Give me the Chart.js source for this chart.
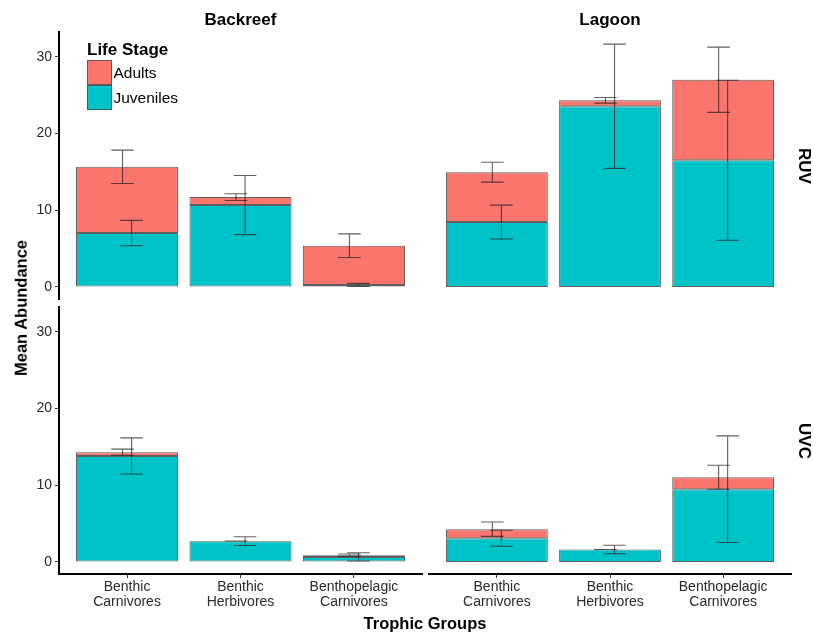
<!DOCTYPE html>
<html>
<head>
<meta charset="utf-8">
<title>Mean Abundance by Trophic Group</title>
<script src="https://cdn.jsdelivr.net/npm/chart.js@4.4.0/dist/chart.umd.min.js"></script>
<style>
  html, body { margin: 0; padding: 0; background: #ffffff; }
  #wrap { position: relative; width: 813px; height: 633px; overflow: hidden;
          font-family: "Liberation Sans", Arial, sans-serif; color: #000; }
  #wrap canvas { position: absolute; }
  .txt { position: absolute; white-space: nowrap; line-height: 1; transform: translate(-50%, -50%); }
  .bold { font-weight: bold; }
  .left { transform: translate(0, -50%); }
  .key { position: absolute; width: 23px; height: 23px; border: 1px solid rgba(70,70,70,0.75); box-sizing: content-box; }
</style>
</head>
<body>
<div id="wrap">
  <canvas id="ruvBackreef" width="426" height="275" style="left:0px;top:28px;"></canvas>
  <canvas id="ruvLagoon" width="370" height="275" style="left:425px;top:28px;"></canvas>
  <canvas id="uvcBackreef" width="426" height="316" style="left:0px;top:303px;"></canvas>
  <canvas id="uvcLagoon" width="370" height="316" style="left:425px;top:303px;"></canvas>

  <div class="txt bold" style="left:240.5px;top:19px;font-size:17px;">Backreef</div>
  <div class="txt bold" style="left:610px;top:19px;font-size:17px;">Lagoon</div>
  <div class="txt bold" style="left:803.8px;top:165.5px;font-size:17px;transform:translate(-50%,-50%) rotate(90deg);">RUV</div>
  <div class="txt bold" style="left:803.8px;top:440.5px;font-size:17px;transform:translate(-50%,-50%) rotate(90deg);">UVC</div>
  <div class="txt bold" style="left:20.8px;top:308px;font-size:16.5px;transform:translate(-50%,-50%) rotate(-90deg);">Mean Abundance</div>
  <div class="txt bold" style="left:425px;top:622.5px;font-size:16.5px;">Trophic Groups</div>

  <div class="txt bold left" style="left:87px;top:48.8px;font-size:17px;">Life Stage</div>
  <div class="key" id="keyAdults" style="left:86.5px;top:59.5px;"></div>
  <div class="key" id="keyJuveniles" style="left:86.5px;top:85px;"></div>
  <div class="txt left" style="left:113.5px;top:73px;font-size:15.5px;">Adults</div>
  <div class="txt left" style="left:113.5px;top:98.3px;font-size:15.5px;">Juveniles</div>
</div>

<script>
// Trophic groups on the x axis and the y tick values
const trophicGroups = ['Benthic Carnivores', 'Benthic Herbivores', 'Benthopelagic Carnivores'];
const yTickValues = [0, 10, 20, 30];

// RUV surveys, Backreef: mean abundance and standard error per life stage
const ruvBackreefJuveniles   = [7.02, 10.66, 0.26];
const ruvBackreefAdults      = [8.63, 1.04, 5.11];
const ruvBackreefJuvenilesSE = [1.65, 3.85, 0.20];
const ruvBackreefAdultsSE    = [2.17, 0.44, 1.54];

// RUV surveys, Lagoon
const ruvLagoonJuveniles   = [8.45, 23.54, 16.51];
const ruvLagoonAdults      = [6.50, 0.78, 10.49];
const ruvLagoonJuvenilesSE = [2.20, 8.10, 10.43];
const ruvLagoonAdultsSE    = [1.30, 0.37, 4.25];

// UVC surveys, Backreef
const uvcBackreefJuveniles   = [13.81, 2.70, 0.65];
const uvcBackreefAdults      = [0.48, 0.02, 0.22];
const uvcBackreefJuvenilesSE = [2.35, 0.57, 0.54];
const uvcBackreefAdultsSE    = [0.40, 0.00, 0.15];

// UVC surveys, Lagoon
const uvcLagoonJuveniles   = [3.08, 1.61, 9.47];
const uvcLagoonAdults      = [1.18, 0.00, 1.56];
const uvcLagoonJuvenilesSE = [1.05, 0.56, 6.95];
const uvcLagoonAdultsSE    = [0.93, 0.00, 1.56];

const ADULT_COLOR = '#FA756D';
const JUVENILE_COLOR = '#00C3C8';
const BAR_EDGE = 'rgba(55,55,55,0.8)';
const Y_MIN = -1.58, Y_MAX = 33.22;
const DODGE = 0.04;      // horizontal offset of each life stage's error bar
const CAP_HALF = 0.1;    // half width of the error bar caps (category units)

document.getElementById('keyAdults').style.background = ADULT_COLOR;
document.getElementById('keyJuveniles').style.background = JUVENILE_COLOR;

Chart.defaults.font.family = '"Liberation Sans", Arial, sans-serif';

const panels = [
  { id: 'ruvBackreef', juv: ruvBackreefJuveniles, ad: ruvBackreefAdults, juvSE: ruvBackreefJuvenilesSE, adSE: ruvBackreefAdultsSE,
    showY: true, showX: false, pad: { top: 4, left: 0, right: 4, bottom: 4 } },
  { id: 'ruvLagoon', juv: ruvLagoonJuveniles, ad: ruvLagoonAdults, juvSE: ruvLagoonJuvenilesSE, adSE: ruvLagoonAdultsSE,
    showY: false, showX: false, pad: { top: 4, left: 4, right: 4, bottom: 4 } },
  { id: 'uvcBackreef', juv: uvcBackreefJuveniles, ad: uvcBackreefAdults, juvSE: uvcBackreefJuvenilesSE, adSE: uvcBackreefAdultsSE,
    showY: true, showX: true, pad: { top: 4, left: 0, right: 4, bottom: 0 } },
  { id: 'uvcLagoon', juv: uvcLagoonJuveniles, ad: uvcLagoonAdults, juvSE: uvcLagoonJuvenilesSE, adSE: uvcLagoonAdultsSE,
    showY: false, showX: true, pad: { top: 4, left: 4, right: 4, bottom: 0 } }
];

// Error bars: adults are centred on the top of the stack, juveniles on their own segment
const errorBars = {
  id: 'errorBars',
  afterDatasetsDraw(chart, args, opts) {
    const p = opts.panel;
    const { ctx } = chart;
    const xs = chart.scales.x, ys = chart.scales.y;
    ctx.save();
    ctx.strokeStyle = 'rgba(35,35,35,0.72)';
    ctx.lineWidth = 1.1;
    const bar = (cx, lo, hi) => {
      const x = xs.getPixelForValue(cx);
      const xl = xs.getPixelForValue(cx - CAP_HALF), xr = xs.getPixelForValue(cx + CAP_HALF);
      const yl = ys.getPixelForValue(lo), yh = ys.getPixelForValue(hi);
      ctx.beginPath();
      ctx.moveTo(x, yl); ctx.lineTo(x, yh);
      ctx.moveTo(xl, yh); ctx.lineTo(xr, yh);
      ctx.moveTo(xl, yl); ctx.lineTo(xr, yl);
      ctx.stroke();
    };
    p.juv.forEach((j, i) => {
      const total = j + p.ad[i];
      bar(i + 1 - DODGE, total - p.adSE[i], total + p.adSE[i]);
      bar(i + 1 + DODGE, j - p.juvSE[i], j + p.juvSE[i]);
    });
    ctx.restore();
  }
};

const tickFont = { size: 14, lineHeight: 1.1 };

panels.forEach(p => {
  new Chart(document.getElementById(p.id), {
    type: 'bar',
    data: {
      datasets: [
        { label: 'Juveniles', data: p.juv.map((v, i) => ({ x: i + 1, y: v })),
          backgroundColor: JUVENILE_COLOR, borderColor: BAR_EDGE, borderWidth: 1, borderSkipped: false },
        { label: 'Adults', data: p.ad.map((v, i) => ({ x: i + 1, y: v })),
          backgroundColor: ADULT_COLOR, borderColor: BAR_EDGE, borderWidth: 1, borderSkipped: false }
      ]
    },
    options: {
      responsive: false,
      animation: false,
      devicePixelRatio: 1,
      layout: { padding: p.pad },
      datasets: { bar: { barPercentage: 0.9, categoryPercentage: 1.0 } },
      plugins: { legend: { display: false }, tooltip: { enabled: false }, errorBars: { panel: p } },
      scales: {
        x: {
          type: 'linear', min: 0.4, max: 3.6, offset: false, stacked: true,
          display: p.showX,
          afterBuildTicks: s => { s.ticks = trophicGroups.map((_, i) => ({ value: i + 1 })); },
          afterFit: s => { if (s.options.display) { s.height = 45; } s.paddingLeft = 0; s.paddingRight = 0; },
          grid: { display: true, drawOnChartArea: false, drawTicks: true, tickLength: 4, color: '#333', offset: false },
          border: { display: true, color: '#000', width: 2 },
          ticks: { font: tickFont, color: '#2a2a2a', padding: 1, maxRotation: 0, autoSkip: false,
                   callback: v => trophicGroups[v - 1].split(' ') }
        },
        y: {
          type: 'linear', min: Y_MIN, max: Y_MAX, stacked: true,
          display: p.showY,
          afterBuildTicks: s => { s.ticks = yTickValues.map(v => ({ value: v })); },
          afterFit: s => { if (s.options.display) { s.width = 59; } s.paddingTop = 0; s.paddingBottom = 0; },
          grid: { display: true, drawOnChartArea: false, drawTicks: true, tickLength: 4, color: '#333' },
          border: { display: true, color: '#000', width: 2 },
          ticks: { font: { size: 14 }, color: '#2a2a2a', padding: 3 }
        }
      }
    },
    plugins: [errorBars]
  });
});
</script>
</body>
</html>
